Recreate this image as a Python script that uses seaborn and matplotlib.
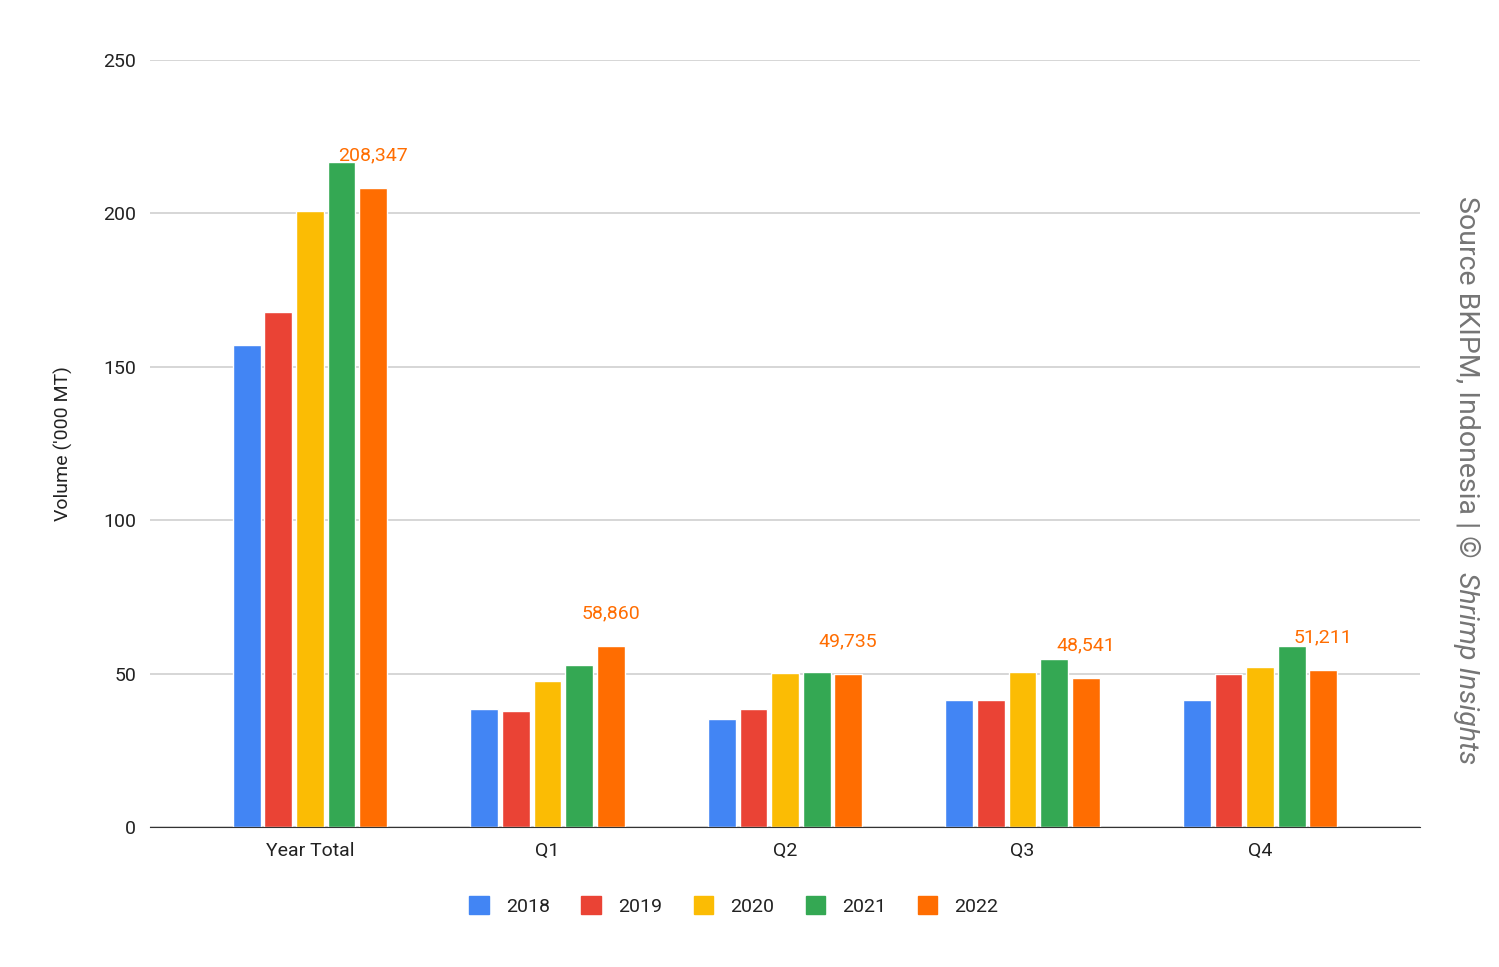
import pandas as pd
import matplotlib.pyplot as plt
import seaborn as sns

# Indonesia shrimp export volume ('000 MT)
periods = ['Year Total', 'Q1', 'Q2', 'Q3', 'Q4']
years = ['2018', '2019', '2020', '2021', '2022']
v2018 = [157.1, 38.4, 35.2, 41.4, 41.4]
v2019 = [167.7, 37.8, 38.4, 41.4, 49.9]
v2020 = [200.7, 47.6, 50.1, 50.6, 52.1]
v2021 = [216.8, 52.8, 50.6, 54.8, 59.1]
v2022 = [208.347, 58.860, 49.735, 48.541, 51.211]
labels_2022 = ['208,347', '58,860', '49,735', '48,541', '51,211']
colors = ['#4285F4', '#EA4335', '#FBBC04', '#34A853', '#FF6D01']

series = [v2018, v2019, v2020, v2021, v2022]
rows = []
for year, vals in zip(years, series):
    for period, v in zip(periods, vals):
        rows.append({'Period': period, 'Year': year, 'Volume': v})
df = pd.DataFrame(rows)

sns.set_style('white')
plt.rcParams['font.family'] = ['Roboto', 'DejaVu Sans']

fig = plt.figure(figsize=(14.99, 9.67), dpi=100)
ax = fig.add_axes([0.1001, 0.1448, 0.8472, 0.7932])

sns.barplot(data=df, x='Period', y='Volume', hue='Year', palette=colors,
            width=0.665, gap=0.12, saturation=1, ax=ax, legend=False, zorder=3)

# value labels above the 2022 bars
ax.bar_label(ax.containers[-1], labels=labels_2022, padding=17,
             color='#FF6D01', fontsize=14)

ax.set_ylim(0, 250)
ax.set_yticks([0, 50, 100, 150, 200, 250])
ax.set_xlim(-0.673, 4.673)
ax.grid(axis='y', color='#cccccc', linewidth=1.1, zorder=0)
ax.set_axisbelow(True)
for s in ['top', 'right', 'left']:
    ax.spines[s].set_visible(False)
ax.spines['bottom'].set_color('#333333')
ax.spines['bottom'].set_zorder(4)
ax.tick_params(axis='both', length=0, labelsize=14, labelcolor='#222222')
ax.tick_params(axis='x', pad=11)
ax.tick_params(axis='y', pad=10)
ax.set_xlabel('')
ax.set_ylabel("Volume ('000 MT)", fontsize=14, color='#222222', labelpad=22)

# legend below the chart
handles = [plt.Rectangle((0, 0), 1, 1, color=c) for c in colors]
fig.legend(handles, years, loc='center', bbox_to_anchor=(734 / 1499, 1 - 906 / 967),
           ncol=5, frameon=False, fontsize=14, handlelength=1.0, handleheight=1.0,
           columnspacing=1.6, handletextpad=0.9, labelcolor='#222222')

# source note on the right, reading top to bottom
fig.text(1466 / 1499, 1 - 196 / 967, 'Source BKIPM, Indonesia | ©', rotation=-90,
         ha='center', va='top', fontsize=20.5, color='#757575')
fig.text(1466 / 1499, 1 - 572 / 967, 'Shrimp Insights', rotation=-90,
         ha='center', va='top', fontsize=20.5, color='#757575', style='italic')

fig.savefig('out.png', dpi=100)
